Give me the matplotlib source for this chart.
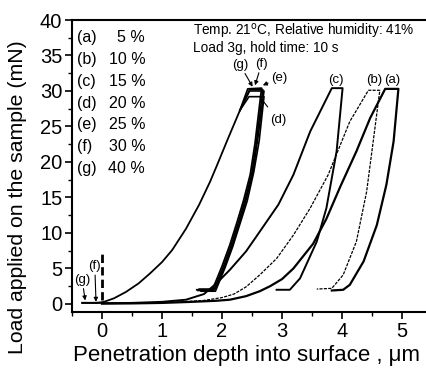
import matplotlib
matplotlib.use("Agg")
import matplotlib.pyplot as plt
from matplotlib.ticker import MultipleLocator

plt.rcParams['font.family'] = ['Liberation Sans', 'DejaVu Sans']

# indentation runs: loading branch, hold at peak, unloading, hold at 2 mN
# depth in um, load in mN
a_depth = [0.0, 0.5, 1.0, 1.5, 1.9, 2.13, 2.4, 2.63, 2.8, 3.0, 3.19, 3.52, 3.74, 3.97, 4.24, 4.47, 4.72,
           4.94, 4.86, 4.74, 4.58, 4.36, 4.13, 4.02, 3.83]
a_load = [0.05, 0.08, 0.15, 0.3, 0.45, 0.6, 1.1, 1.8, 2.5, 3.5, 5.0, 8.5, 12.0, 16.5, 21.5, 26.2, 30.3,
          30.3, 22.9, 16.8, 11.1, 6.0, 2.7, 2.0, 1.9]

b_depth = [0.0, 0.5, 1.2, 1.7, 2.0, 2.2, 2.4, 2.63, 2.91, 3.19, 3.47, 3.77, 4.13, 4.44,
           4.63, 4.52, 4.41, 4.24, 4.02, 3.83, 3.58]
b_load = [0.1, 0.12, 0.25, 0.5, 0.9, 1.4, 2.4, 4.1, 6.4, 9.7, 13.5, 18.2, 25.7, 30.1,
          30.1, 22.9, 15.8, 8.8, 4.1, 2.2, 2.1]

c_depth = [0.0, 0.5, 1.0, 1.4, 1.7, 1.92, 2.13, 2.4, 2.63, 2.94, 3.19, 3.47, 3.83,
           4.01, 3.91, 3.74, 3.58, 3.3, 3.13, 2.91]
c_load = [0.1, 0.15, 0.3, 0.6, 1.4, 3.0, 4.8, 7.4, 10.2, 14.0, 18.2, 24.3, 30.4,
          30.4, 21.5, 13.5, 8.8, 3.6, 2.0, 2.0]

# runs (d)-(g) share one loading branch
dg_load_depth = [0.0, 0.2, 0.4, 0.61, 0.8, 1.0, 1.17, 1.4, 1.62, 1.8, 1.91, 2.1, 2.3]
dg_load_load = [0.2, 0.8, 1.7, 2.9, 4.3, 5.9, 7.6, 10.6, 14.0, 17.2, 19.4, 23.3, 27.3]

d_depth = [2.45, 2.7, 2.62, 2.53, 2.42, 2.3, 2.18, 2.05, 1.91, 1.89, 1.65]
d_load = [29.2, 29.2, 23.0, 18.6, 14.5, 11.3, 8.1, 5.1, 2.2, 1.8, 1.8]

e_depth = [2.46, 2.7, 2.6, 2.52, 2.4, 2.29, 2.17, 2.04, 1.9, 1.88, 1.62]
e_load = [30.0, 30.0, 23.5, 18.8, 14.6, 11.4, 8.2, 5.2, 2.3, 2.1, 2.1]

f_depth = [-0.1, 0.0, 2.46, 2.68, 2.57, 2.49, 2.38, 2.27, 2.15, 2.02, 1.88, 1.86, 1.6]
f_load = [0.15, 0.2, 30.2, 30.2, 22.5, 18.1, 14.5, 11.4, 8.2, 5.2, 2.3, 1.9, 1.9]

g_depth = [-0.33, -0.1, 0.0, 2.43, 2.66, 2.55, 2.47, 2.36, 2.25, 2.13, 2.0, 1.86, 1.84, 1.58]
g_load = [0.15, 0.15, 0.2, 30.3, 30.4, 22.6, 18.2, 14.6, 11.5, 8.3, 5.3, 2.4, 2.0, 2.0]

run_names = ['(a)', '(b)', '(c)', '(d)', '(e)', '(f)', '(g)']
water = ['5 %', '10 %', '15 %', '20 %', '25 %', '30 %', '40 %']

fig = plt.figure(figsize=(4.27, 3.72), dpi=100)
ax = fig.add_axes([72 / 427, 60 / 372, 360 / 427, 292 / 372])

ax.plot(a_depth, a_load, color='k', lw=1.6)
ax.plot(b_depth, b_load, color='k', lw=0.9, dashes=(2.5, 1))
ax.plot(c_depth, c_load, color='k', lw=1.4)

ax.plot(dg_load_depth, dg_load_load, color='k', lw=1.3)
# peak hold and unloading for (d)-(g); the first points join the shared loading branch
for dx, dy in [(d_depth, d_load), (e_depth, e_load)]:
    ax.plot([dg_load_depth[-1]] + dx, [dg_load_load[-1]] + dy, color='k', lw=1.2)
ax.plot(f_depth[:2], f_load[:2], color='k', lw=1.2)
ax.plot([dg_load_depth[-1]] + f_depth[2:], [dg_load_load[-1]] + f_load[2:], color='k', lw=1.2)
ax.plot(g_depth[:3], g_load[:3], color='k', lw=1.5)
ax.plot([dg_load_depth[-1]] + g_depth[3:], [dg_load_load[-1]] + g_load[3:], color='k', lw=1.3)

# zero-depth marker
ax.plot([0, 0], [0.6, 7.0], color='k', lw=2, dashes=(3, 1.5))

ax.set_xlim(-0.5, 5.5)
ax.set_ylim(-1.13, 40)
ax.xaxis.set_major_locator(MultipleLocator(1))
ax.xaxis.set_minor_locator(MultipleLocator(0.5))
ax.yaxis.set_major_locator(MultipleLocator(5))
ax.yaxis.set_minor_locator(MultipleLocator(2.5))
ax.tick_params(which='major', direction='out', length=5, width=1.2, labelsize=14.5, pad=2)
ax.tick_params(which='minor', direction='out', length=3, width=1.0)
for side in ['left', 'bottom', 'top']:
    ax.spines[side].set_linewidth(1.5)
ax.spines['right'].set_visible(False)

ax.set_ylabel('Load applied on the sample (mN)', fontsize=15.3)
ax.yaxis.set_label_coords(-0.125, 0.395)
ax.set_xlabel('Penetration depth into surface , μm', fontsize=16)
ax.xaxis.set_label_coords(0.486, -0.112)

# composition list
for i, (name, w) in enumerate(zip(run_names, water)):
    y = 37.5 - i * 3.07
    ax.text(-0.42, y, name, fontsize=11.5, va='center', ha='left')
    ax.text(0.72, y, w, fontsize=11.5, va='center', ha='right')

ax.text(1.52, 38.4, 'Temp. 21$^{\\rm o}$C, Relative humidity: 41%', fontsize=9.8, va='center')
ax.text(1.52, 36.1, 'Load 3g, hold time: 10 s', fontsize=9.8, va='center')

arrow = dict(arrowstyle='-|>', color='k', lw=0.8, mutation_scale=6, shrinkA=0, shrinkB=0)
ax.annotate('(g)', xy=(2.51, 30.6), xytext=(2.3, 33.7), fontsize=9.5, ha='center', va='center', arrowprops=arrow)
ax.annotate('(f)', xy=(2.55, 30.8), xytext=(2.66, 33.8), fontsize=9.5, ha='center', va='center', arrowprops=arrow)
ax.annotate('(e)', xy=(2.68, 30.8), xytext=(2.95, 31.8), fontsize=9.5, ha='center', va='center', arrowprops=arrow)
ax.annotate('(d)', xy=(2.63, 29.2), xytext=(2.93, 25.9), fontsize=9.5, ha='center', va='center',
            arrowprops=dict(arrowstyle='-', color='k', lw=0.8, shrinkA=4, shrinkB=0))
ax.text(3.9, 31.6, '(c)', fontsize=9.5, ha='center', va='center')
ax.text(4.53, 31.6, '(b)', fontsize=9.5, ha='center', va='center')
ax.text(4.84, 31.6, '(a)', fontsize=9.5, ha='center', va='center')

ax.annotate('(g)', xy=(-0.28, 0.5), xytext=(-0.33, 3.4), fontsize=9.5, ha='center', va='center', arrowprops=arrow)
ax.annotate('(f)', xy=(-0.1, 0.3), xytext=(-0.12, 5.3), fontsize=9.5, ha='center', va='center', arrowprops=arrow)

fig.savefig('out.png', dpi=100)
